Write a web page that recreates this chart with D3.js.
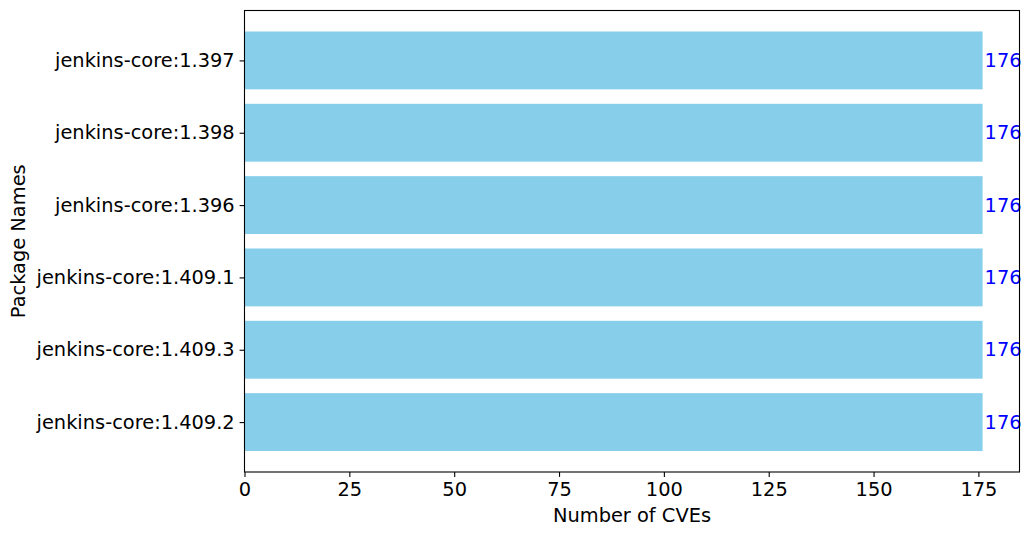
<!DOCTYPE html>
<html>
<head>
<meta charset="utf-8">
<script src="https://cdn.jsdelivr.net/npm/d3@7"></script>
<style>
  body { margin: 0; background: #fff; }
  svg text { font-family: "DejaVu Sans", sans-serif; }
</style>
</head>
<body>
<div id="chart"></div>
<script>
// ---- Data ----
const packages = [
  'jenkins-core:1.397',
  'jenkins-core:1.398',
  'jenkins-core:1.396',
  'jenkins-core:1.409.1',
  'jenkins-core:1.409.3',
  'jenkins-core:1.409.2'
];
const cveCounts = [176, 176, 176, 176, 176, 176];
const xTicks = [0, 25, 50, 75, 100, 125, 150, 175];

const W = 1030, H = 535;
const margin = { top: 10.5, right: 10.5, bottom: 63, left: 244.5 };
const innerW = W - margin.left - margin.right;
const innerH = H - margin.top - margin.bottom;
const fontSize = '19.4px';

const svg = d3.select('#chart').append('svg')
  .attr('width', W).attr('height', H);
const g = svg.append('g')
  .attr('transform', `translate(${margin.left},${margin.top})`);

// ---- Scales (matplotlib-like margins) ----
const x = d3.scaleLinear()
  .domain([0, d3.max(cveCounts) * 1.05])
  .range([0, innerW]);

const n = packages.length;
const barH = 0.8;
const pad = (n - 1 + barH) * 0.05;
const y = d3.scaleLinear()
  .domain([-barH / 2 - pad, n - 1 + barH / 2 + pad])
  .range([0, innerH]);

// ---- Bars ----
g.selectAll('rect.bar').data(cveCounts).join('rect')
  .attr('class', 'bar')
  .attr('x', x(0))
  .attr('y', (d, i) => y(i - barH / 2))
  .attr('width', d => x(d) - x(0))
  .attr('height', (d, i) => y(i + barH / 2) - y(i - barH / 2))
  .attr('fill', '#87ceeb');

// value labels
g.selectAll('text.val').data(cveCounts).join('text')
  .attr('class', 'val')
  .attr('x', d => x(d) + 2)
  .attr('y', (d, i) => y(i))
  .attr('dominant-baseline', 'central')
  .attr('font-size', fontSize)
  .attr('fill', 'blue')
  .text(d => d);

// ---- Axes ----
const xAxis = g.append('g')
  .attr('transform', `translate(0,${innerH})`)
  .call(d3.axisBottom(x).tickValues(xTicks).tickSize(4.9).tickPadding(4.9));
xAxis.select('.domain').remove();

const yAxis = g.append('g')
  .call(d3.axisLeft(y).tickValues(d3.range(n)).tickFormat(i => packages[i])
    .tickSize(4.9).tickPadding(4.9));
yAxis.select('.domain').remove();

[xAxis, yAxis].forEach(a => {
  a.selectAll('text').attr('font-size', fontSize).attr('fill', '#000')
    .style('font-family', '"DejaVu Sans", sans-serif');
  a.selectAll('line').attr('stroke', '#000').attr('stroke-width', 1.1);
});

// frame
g.append('rect')
  .attr('x', 0).attr('y', 0)
  .attr('width', innerW).attr('height', innerH)
  .attr('fill', 'none').attr('stroke', '#000').attr('stroke-width', 1.1);

// ---- Axis labels ----
svg.append('text')
  .attr('x', margin.left + innerW / 2)
  .attr('y', 522)
  .attr('text-anchor', 'middle')
  .attr('font-size', fontSize)
  .text('Number of CVEs');

svg.append('text')
  .attr('transform', `translate(25,${margin.top + innerH / 2}) rotate(-90)`)
  .attr('text-anchor', 'middle')
  .attr('font-size', fontSize)
  .text('Package Names');
</script>
</body>
</html>
